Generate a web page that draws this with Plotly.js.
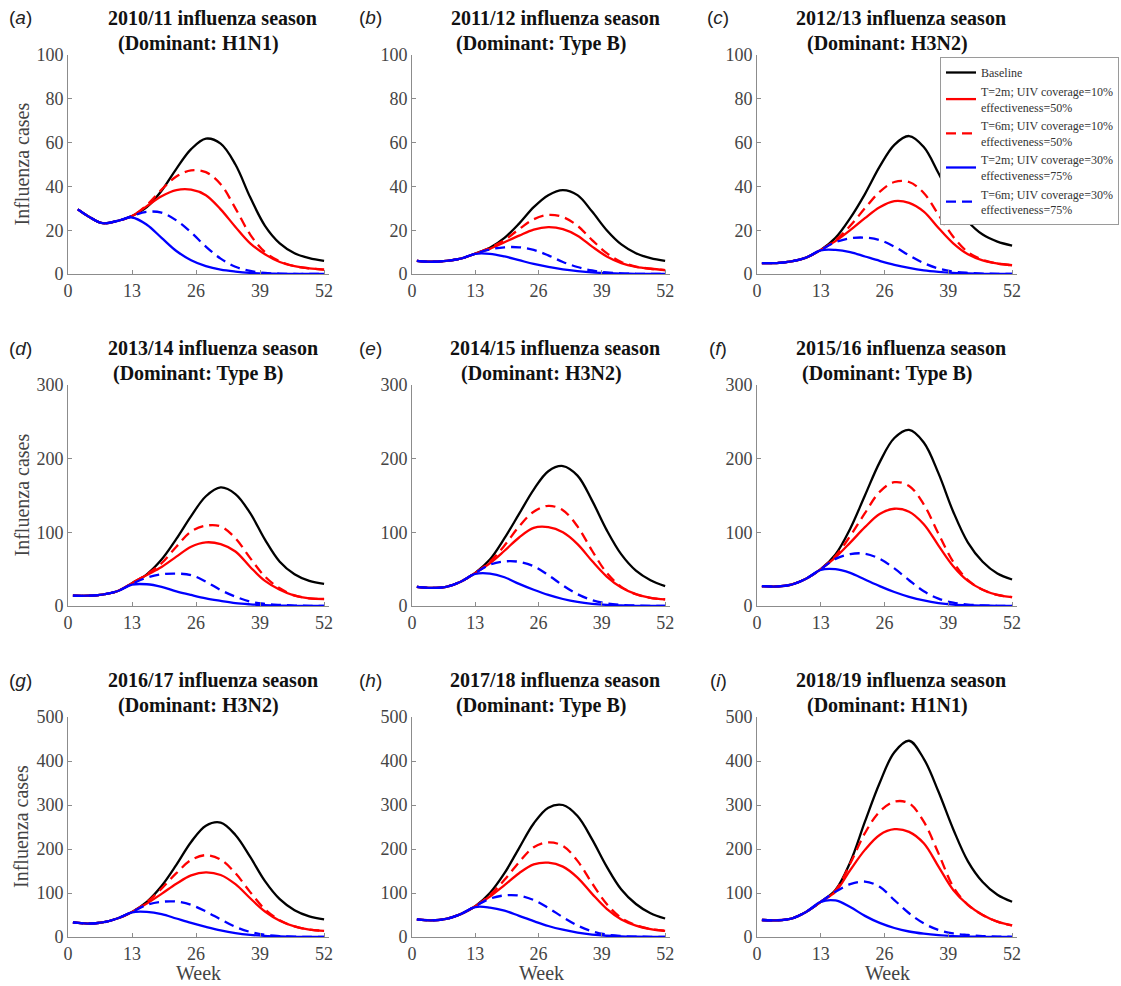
<!DOCTYPE html>
<html>
<head>
<meta charset="utf-8">
<script src="https://cdn.plot.ly/plotly-3.0.1.min.js"></script>
<style>
  html, body { margin: 0; padding: 0; background: #fff; }
  #chart { width: 1121px; height: 986px; }
</style>
</head>
<body>
<div id="chart"></div>
<script>
// ---------------- data (weekly influenza cases) ----------------
const weeks  = [1, 4, 7, 10, 13, 16, 19, 22, 25, 28, 31, 34, 37, 40, 43, 46, 49, 52];
const weeksA = [2, 4, 7, 10, 13, 16, 19, 22, 25, 28, 31, 34, 37, 40, 43, 46, 49, 52];
const xTicks = [0, 13, 26, 39, 52];

const seriesNames = [
  "Baseline",
  "T=2m; UIV coverage=10%<br>effectiveness=50%",
  "T=6m; UIV coverage=10%<br>effectiveness=50%",
  "T=2m; UIV coverage=30%<br>effectiveness=75%",
  "T=6m; UIV coverage=30%<br>effectiveness=75%"
];

// (a) 2010/11, H1N1
const aBaseline = [29.5, 26.5, 23.2, 24.2, 26.5, 30.5, 38, 48, 57, 61.8, 59.5, 50, 35, 22, 14, 9.5, 7.2, 6];
const aT2m10    = [29.5, 26.5, 23.2, 24.2, 26.5, 31, 35.5, 38.3, 38.5, 36, 29.5, 21.5, 14, 9, 5.5, 3.6, 2.6, 2];
const aT6m10    = [29.5, 26.5, 23.2, 24.2, 26.5, 31.5, 38.5, 44.5, 47.3, 46.5, 41, 30, 18, 10, 5.8, 3.6, 2.6, 2];
const aT2m30    = [29.5, 26.5, 23.2, 24.2, 25.8, 22.5, 16.5, 10.5, 6.3, 3.6, 2, 1.1, 0.5, 0.2, 0.1, 0, 0, 0];
const aT6m30    = [29.5, 26.5, 23.2, 24.2, 26.5, 28.4, 28, 24.5, 19, 12.5, 7, 3.3, 1.4, 0.5, 0.2, 0, 0, 0];

// (b) 2011/12, Type B
const bBaseline = [6, 5.6, 6, 7, 9.3, 12, 16.5, 23, 30.5, 36, 38.3, 36, 28.5, 20, 13.5, 9.5, 7.2, 6];
const bT2m10    = [6, 5.6, 6, 7, 9.3, 11.5, 14.5, 17.5, 20.3, 21.4, 20.5, 17.5, 12.5, 8, 5, 3.3, 2.4, 1.8];
const bT6m10    = [6, 5.6, 6, 7, 9.3, 12, 15.5, 20.5, 25, 27, 26, 22, 15.5, 9.5, 5.5, 3.4, 2.4, 1.8];
const bT2m30    = [6, 5.6, 6, 7, 9.2, 9.2, 8, 6.3, 4.6, 3.2, 2.1, 1.3, 0.7, 0.4, 0.2, 0.1, 0, 0];
const bT6m30    = [6, 5.6, 6, 7, 9.3, 11.2, 12.2, 12.2, 11, 8.5, 5.5, 3.2, 1.6, 0.7, 0.3, 0.1, 0, 0];

// (c) 2012/13, H3N2
const cBaseline = [5, 5, 5.8, 7.5, 11, 16.5, 25.5, 36.5, 49, 59, 63, 58, 46, 33, 24, 18, 14.8, 13];
const cT2m10    = [5, 5, 5.8, 7.5, 11, 15, 20, 25.5, 30.5, 33.3, 32.5, 28.5, 21, 14, 9, 6.2, 4.8, 4];
const cT6m10    = [5, 5, 5.8, 7.5, 11, 15.5, 22, 30, 37.5, 42, 42, 37, 27, 17, 10, 6.5, 4.8, 4];
const cT2m30    = [5, 5, 5.8, 7.5, 10.8, 11, 10, 8, 6, 4.2, 2.8, 1.7, 1, 0.5, 0.3, 0.1, 0, 0];
const cT6m30    = [5, 5, 5.8, 7.5, 11, 14.5, 16.3, 16.6, 15.5, 12.5, 8.5, 5, 2.5, 1.1, 0.5, 0.2, 0.1, 0];

// (d) 2013/14, Type B
const dBaseline = [14, 14, 15.5, 20, 31, 43, 63, 91, 122, 149, 161, 152, 126, 90, 60, 43, 34, 30];
const dT2m10    = [14, 14, 15.5, 20, 31, 42, 53, 67, 80.5, 86.4, 84, 74, 53, 34, 22, 14, 10.4, 9.5];
const dT6m10    = [14, 14, 15.5, 20, 31, 43, 58, 80.5, 101, 109, 108, 92, 65, 40, 24, 14.5, 10.4, 9.5];
const dT2m30    = [14, 14, 15.5, 20, 29, 29.5, 26, 20, 15, 10.4, 7, 4, 2.3, 1.2, 0.6, 0.3, 0.1, 0];
const dT6m30    = [14, 14, 15.5, 20, 30, 38.5, 43, 44, 42, 33, 21.7, 12.7, 6, 3, 1.5, 0.6, 0.2, 0.1];

// (e) 2014/15, H3N2
const eBaseline = [26, 24.5, 26, 33, 45, 63, 92, 125, 158, 183, 190, 177, 143, 103, 70, 48, 35, 27];
const eT2m10    = [26, 24.5, 26, 33, 45, 58, 75, 93, 106, 107, 100, 84, 61, 40, 25, 16, 11, 9];
const eT6m10    = [26, 24.5, 26, 33, 45, 60, 82, 108, 128, 136, 130, 108, 75, 45, 26, 16, 11, 9];
const eT2m30    = [26, 24.5, 26, 33, 43.5, 44, 39, 30, 22, 15, 9.5, 5.5, 3, 1.5, 0.7, 0.3, 0.1, 0];
const eT6m30    = [26, 24.5, 26, 33, 45, 56, 60.5, 60, 54, 42, 28, 16, 8, 3.5, 1.5, 0.6, 0.2, 0];

// (f) 2015/16, Type B
const fBaseline = [27, 26.5, 29, 37, 50, 70, 105, 150, 195, 228, 239, 222, 180, 128, 86, 60, 44, 36];
const fT2m10    = [27, 26.5, 29, 37, 50, 66, 86, 107, 125, 132, 128, 111, 82, 54, 34, 22, 15, 12];
const fT6m10    = [27, 26.5, 29, 37, 50, 68, 95, 126, 155, 168, 163, 138, 98, 60, 35, 22, 15, 12];
const fT2m30    = [27, 26.5, 29, 37, 49, 50, 45, 36, 27, 19, 12.5, 7.5, 4, 2, 1, 0.5, 0.2, 0.1];
const fT6m30    = [27, 26.5, 29, 37, 50, 64, 70.5, 71, 64, 51, 35, 20, 10, 4.5, 2, 0.8, 0.3, 0.1];

// (g) 2016/17, H3N2
const gBaseline = [33, 30.5, 33, 42, 57, 80, 116, 164, 216, 253, 260, 232, 182, 127, 86, 61, 47, 40];
const gT2m10    = [33, 30.5, 33, 42, 57, 76, 98, 121, 140, 147, 141, 120, 88, 58, 37, 24, 17, 14];
const gT6m10    = [33, 30.5, 33, 42, 57, 79, 110, 145, 175, 186, 176, 145, 102, 63, 38, 24, 17, 14];
const gT2m30    = [33, 30.5, 33, 42, 56, 57, 52, 42, 32, 23, 15, 9, 5, 2.5, 1.2, 0.5, 0.2, 0.1];
const gT6m30    = [33, 30.5, 33, 42, 57, 73, 80, 80.5, 73, 58, 40, 23, 11.5, 5, 2, 0.8, 0.3, 0.1];

// (h) 2017/18, Type B
const hBaseline = [40, 38, 41, 52, 70, 100, 145, 202, 258, 294, 300, 275, 222, 160, 108, 75, 54, 42];
const hT2m10    = [40, 38, 41, 52, 70, 92, 118, 145, 165, 169, 160, 135, 98, 64, 40, 26, 18, 14];
const hT6m10    = [40, 38, 41, 52, 70, 95, 130, 170, 204, 215, 207, 173, 122, 75, 43, 27, 18, 14];
const hT2m30    = [40, 38, 41, 52, 68, 67, 60, 48, 36, 25, 16.5, 10, 5.5, 2.8, 1.3, 0.6, 0.2, 0.1];
const hT6m30    = [40, 38, 41, 52, 70, 87, 94.5, 94, 84, 66, 45, 26, 13, 5.5, 2.3, 0.9, 0.3, 0.1];

// (i) 2018/19, H1N1
const iBaseline = [38.6, 38, 42, 57, 80, 107, 170, 262, 350, 420, 446, 405, 330, 245, 172, 125, 96, 80];
const iT2m10    = [38.6, 38, 42, 57, 80, 103, 152, 198, 232, 245, 239, 213, 160, 107, 73, 50, 35, 26.5];
const iT6m10    = [38.6, 38, 42, 57, 80, 106, 167, 236, 285, 307.5, 304, 262, 190, 114, 73, 50, 35, 26.5];
const iT2m30    = [38.6, 38, 42, 57, 80, 83, 68, 48, 32, 20.5, 12.5, 7.5, 4.2, 2.2, 1, 0.5, 0.2, 0.1];
const iT6m30    = [38.6, 38, 42, 57, 80, 103, 120, 126, 114, 84, 54, 31, 16, 8, 4.5, 2, 1, 0.5];

const panelLetters = ["a", "b", "c", "d", "e", "f", "g", "h", "i"];
const seasons = ["2010/11", "2011/12", "2012/13", "2013/14", "2014/15", "2015/16", "2016/17", "2017/18", "2018/19"];
const dominants = ["H1N1", "Type B", "H3N2", "Type B", "H3N2", "Type B", "H3N2", "Type B", "H1N1"];
const yMax = [100, 100, 100, 300, 300, 300, 500, 500, 500];
const yStep = [20, 20, 20, 100, 100, 100, 100, 100, 100];

const panelSeries = [
  [aBaseline, aT2m10, aT6m10, aT2m30, aT6m30],
  [bBaseline, bT2m10, bT6m10, bT2m30, bT6m30],
  [cBaseline, cT2m10, cT6m10, cT2m30, cT6m30],
  [dBaseline, dT2m10, dT6m10, dT2m30, dT6m30],
  [eBaseline, eT2m10, eT6m10, eT2m30, eT6m30],
  [fBaseline, fT2m10, fT6m10, fT2m30, fT6m30],
  [gBaseline, gT2m10, gT6m10, gT2m30, gT6m30],
  [hBaseline, hT2m10, hT6m10, hT2m30, hT6m30],
  [iBaseline, iT2m10, iT6m10, iT2m30, iT6m30]
];
const panelWeeks = [weeksA, weeks, weeks, weeks, weeks, weeks, weeks, weeks, weeks];

// ---------------- styling / layout ----------------
const W = 1121, H = 986;
const colX = [[68, 329], [412, 670], [757, 1017]];
const rowY = [[55, 274], [385, 606], [717, 937]];
const letterX = [20, 370, 718];
const lineColors = ["#000000", "#ff0000", "#ff0000", "#0000ff", "#0000ff"];
const lineDash = ["solid", "solid", "10px,6px", "solid", "10px,6px"];
const serif = "Liberation Serif, Times New Roman, serif";
const axisGray = "#8c8c8c";
const labelGray = "#444444";

const px = v => v / W;
const py = v => 1 - v / H;

const traces = [];
const layout = {
  width: W, height: H,
  margin: { l: 0, r: 0, t: 0, b: 0, autoexpand: false },
  paper_bgcolor: "#ffffff",
  plot_bgcolor: "#ffffff",
  showlegend: true,
  legend: {
    x: px(1119), y: py(57), xanchor: "right", yanchor: "top",
    bgcolor: "#ffffff", bordercolor: "#9a9a9a", borderwidth: 1,
    font: { family: serif, size: 12, color: "#333333" },
    tracegroupgap: 0, itemwidth: 30, valign: "middle"
  },
  annotations: []
};

for (let p = 0; p < 9; p++) {
  const r = Math.floor(p / 3), c = p % 3;
  const suffix = p === 0 ? "" : String(p + 1);
  const xa = "xaxis" + suffix, ya = "yaxis" + suffix;
  const xr = "x" + suffix, yr = "y" + suffix;

  layout[xa] = {
    domain: [px(colX[c][0]), px(colX[c][1])],
    anchor: yr,
    range: [0, 53],
    tickmode: "array", tickvals: xTicks, ticktext: xTicks.map(String),
    ticks: "inside", ticklen: 4, tickwidth: 1, tickcolor: axisGray,
    showline: true, linecolor: axisGray, linewidth: 1,
    showgrid: false, zeroline: false,
    tickfont: { family: serif, size: 18, color: labelGray },
    fixedrange: true
  };
  layout[ya] = {
    domain: [py(rowY[r][1]), py(rowY[r][0])],
    anchor: xr,
    range: [0, yMax[p]],
    tick0: 0, dtick: yStep[p],
    ticks: "inside", ticklen: 4, tickwidth: 1, tickcolor: axisGray,
    showline: true, linecolor: axisGray, linewidth: 1,
    showgrid: false, zeroline: false,
    tickfont: { family: serif, size: 18, color: labelGray },
    fixedrange: true
  };

  panelSeries[p].forEach((ys, k) => {
    traces.push({
      type: "scatter", mode: "lines",
      x: panelWeeks[p], y: ys,
      xaxis: xr, yaxis: yr,
      name: seriesNames[k],
      legendgroup: "s" + k,
      showlegend: p === 2,
      line: { color: lineColors[k], width: 2.3, dash: lineDash[k], shape: "spline", smoothing: 1 },
      hoverinfo: "skip"
    });
  });

  const cx = (colX[c][0] + colX[c][1]) / 2;
  const top = rowY[r][0];
  layout.annotations.push({
    xref: "paper", yref: "paper", x: px(cx + 14), y: py(top - 37),
    xanchor: "center", yanchor: "middle", showarrow: false,
    text: "<b>" + seasons[p] + " influenza season</b>",
    font: { family: serif, size: 20, color: "#111111" }
  });
  layout.annotations.push({
    xref: "paper", yref: "paper", x: px(cx), y: py(top - 12),
    xanchor: "center", yanchor: "middle", showarrow: false,
    text: "<b>(Dominant: " + dominants[p] + ")</b>",
    font: { family: serif, size: 20, color: "#111111" }
  });
  layout.annotations.push({
    xref: "paper", yref: "paper", x: px(letterX[c]), y: py(top - 37),
    xanchor: "center", yanchor: "middle", showarrow: false,
    text: "(<i>" + panelLetters[p] + "</i>)",
    font: { family: "Liberation Sans, Arial, sans-serif", size: 19, color: "#222222" }
  });
  if (c === 0) {
    layout.annotations.push({
      xref: "paper", yref: "paper", x: px(21), y: py((rowY[r][0] + rowY[r][1]) / 2),
      xanchor: "center", yanchor: "middle", showarrow: false, textangle: -90,
      text: "Influenza cases",
      font: { family: serif, size: 20, color: labelGray }
    });
  }
  if (r === 2) {
    layout.annotations.push({
      xref: "paper", yref: "paper", x: px(cx), y: py(973),
      xanchor: "center", yanchor: "middle", showarrow: false,
      text: "Week",
      font: { family: serif, size: 20, color: labelGray }
    });
  }
}

Plotly.newPlot("chart", traces, layout, { displayModeBar: false, staticPlot: true });
</script>
</body>
</html>
